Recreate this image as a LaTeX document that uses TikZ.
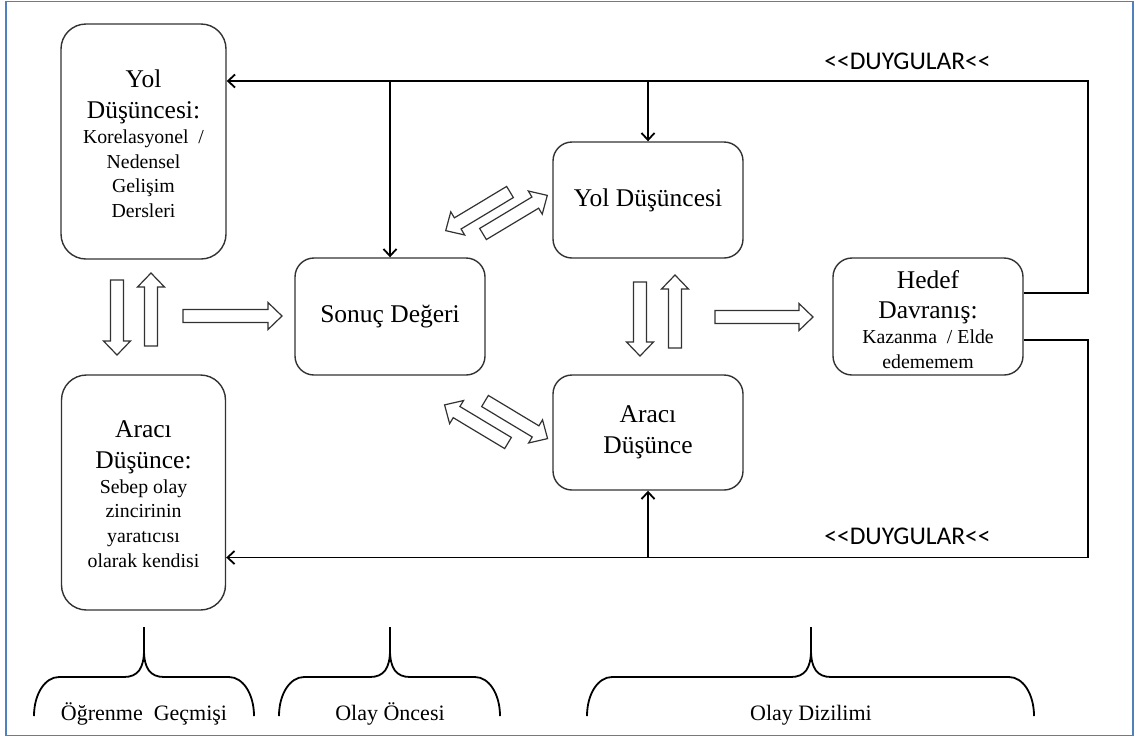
\documentclass[tikz,border=0pt]{standalone}
\usepackage{fontspec}
\setmainfont{Liberation Serif}
\newfontfamily\duyfont{Carlito}
\usetikzlibrary{arrows.meta}

\definecolor{framecol}{RGB}{79,129,189}
\definecolor{boxcol}{RGB}{50,50,50}

\newcommand\bigtxt{\fontsize{25.5}{31}\selectfont}
\newcommand\smalltxt{\fontsize{19.8}{24.7}\selectfont}

% hollow block arrow: tail x, tail y, direction (deg), length
\newcommand\harrow[4]{%
  \draw[hollow, shift={(#1,#2)}, rotate=#3]
    (0,6.5) -- (#4-14,6.5) -- (#4-14,13.5) -- (#4,0) -- (#4-14,-13.5)
    -- (#4-14,-6.5) -- (0,-6.5) -- cycle;}

% curly brace opening downwards: left x, peak x, right x
\newcommand\bracepath[3]{%
  \draw[brace] (#1,716) .. controls (#1,694) and (#1+11,677) .. (#1+25,677)
    -- (#2-20,677) .. controls (#2-6,677) and (#2,668) .. (#2,650) -- (#2,627);
  \draw[brace] (#2,627) -- (#2,650) .. controls (#2,668) and (#2+6,677) .. (#2+20,677)
    -- (#3-25,677) .. controls (#3-11,677) and (#3,694) .. (#3,716);}

\begin{document}
\begin{tikzpicture}[x=1pt,y=-1pt,
  box/.style={draw=boxcol, line width=1.4pt, rounded corners=19pt, inner sep=0pt,
    align=center, font=\bigtxt},
  sidebox/.style={box, rounded corners=25pt, minimum width=165pt, minimum height=235pt},
  midbox/.style={box, minimum width=190pt, minimum height=116pt},
  bigline/.style={anchor=base, inner sep=0pt, font=\bigtxt},
  smallline/.style={anchor=base, inner sep=0pt, font=\smalltxt},
  conn/.style={line width=1.8pt, -{Straight Barb[length=7pt,width=13pt]}},
  hollow/.style={draw=boxcol, line width=1.2pt, fill=white},
  brace/.style={line width=1.8pt},
  duy/.style={anchor=base, inner sep=0pt, font=\duyfont\fontsize{25.5}{30}\selectfont},
  grouplabel/.style={anchor=base, inner sep=0pt, font=\fontsize{22}{26}\selectfont}]

\useasboundingbox (0,0) rectangle (1139,740);
\draw[framecol, line width=1.5pt] (6,1.5) rectangle (1133,735.5);

% left column
\node[sidebox] (yolL) at (143.5,141.5) {};
\node[bigline]   (yolL1) at (143.5,87)  {Yol};
\node[bigline]   (yolL2) at (143.5,118) {Düşüncesi:};
\node[smallline] (yolL3) at (143.5,143) {Korelasyonel~ /};
\node[smallline] (yolL4) at (143.5,168) {Nedensel};
\node[smallline] (yolL5) at (143.5,192) {Gelişim};
\node[smallline] (yolL6) at (143.5,217) {Dersleri};

\node[sidebox, minimum width=164pt] (araciL) at (143.5,492.5) {};
\node[bigline]   (araciL1) at (143.5,437) {Aracı};
\node[bigline]   (araciL2) at (143.5,468) {Düşünce:};
\node[smallline] (araciL3) at (143.5,493) {Sebep olay};
\node[smallline] (araciL4) at (143.5,517.7) {zincirinin};
\node[smallline] (araciL5) at (143.5,542.4) {yaratıcısı};
\node[smallline] (araciL6) at (143.5,567) {olarak kendisi};

% middle and right boxes
\node[midbox, minimum height=117pt] (sonuc) at (390,316.5) {Sonuç Değeri};
\node[midbox] (yolM) at (648,200) {Yol Düşüncesi};
\node[midbox, minimum height=115pt] (araciM) at (648,432.5) {Aracı\\Düşünce};
\node[midbox, minimum height=117pt] (hedef) at (928,316.5) {};
\node[bigline]   (hedef1) at (928,288) {Hedef};
\node[bigline]   (hedef2) at (928,318) {Davranış:};
\node[smallline] (hedef3) at (928,343) {Kazanma~ / Elde};
\node[smallline] (hedef4) at (928,368) {edememem};

% feedback lines
\coordinate (tr) at (1088,81);
\coordinate (br) at (1088,557.5);
\draw[conn] ([yshift=23.5pt]hedef.east) -| (tr) -- (tr -| yolL.east);
\draw[conn] (tr -| sonuc.north) -- (sonuc.north);
\draw[conn] (tr -| yolM.north) -- (yolM.north);
\draw[conn] ([yshift=-23.5pt]hedef.east) -| (br) -- (br -| araciL.east);
\draw[conn] (br -| araciM.south) -- (araciM.south);

\node[duy] (duyTop) at (907.5,69) {<<DUYGULAR<<};
\node[duy] (duyBot) at (907.5,544) {<<DUYGULAR<<};

% block arrows
\harrow{117}{280}{-90}{75}
\harrow{151}{346}{90}{73}
\harrow{183}{316}{0}{99}
\harrow{640}{282}{-90}{74}
\harrow{675}{348}{90}{73}
\harrow{715}{317}{0}{98}
\harrow{510}{192}{211}{75}
\harrow{483}{234}{31}{75}
\harrow{508}{443}{149}{74}
\harrow{485}{401}{-31}{73}

% phase braces
\bracepath{34}{144}{254}
\bracepath{279}{390}{500}
\bracepath{587}{811}{1034}
\node[grouplabel] (phase1) at (144,720) {Öğrenme~ Geçmişi};
\node[grouplabel] (phase2) at (390,720) {Olay Öncesi};
\node[grouplabel] (phase3) at (811,720) {Olay Dizilimi};
\end{tikzpicture}
\end{document}
